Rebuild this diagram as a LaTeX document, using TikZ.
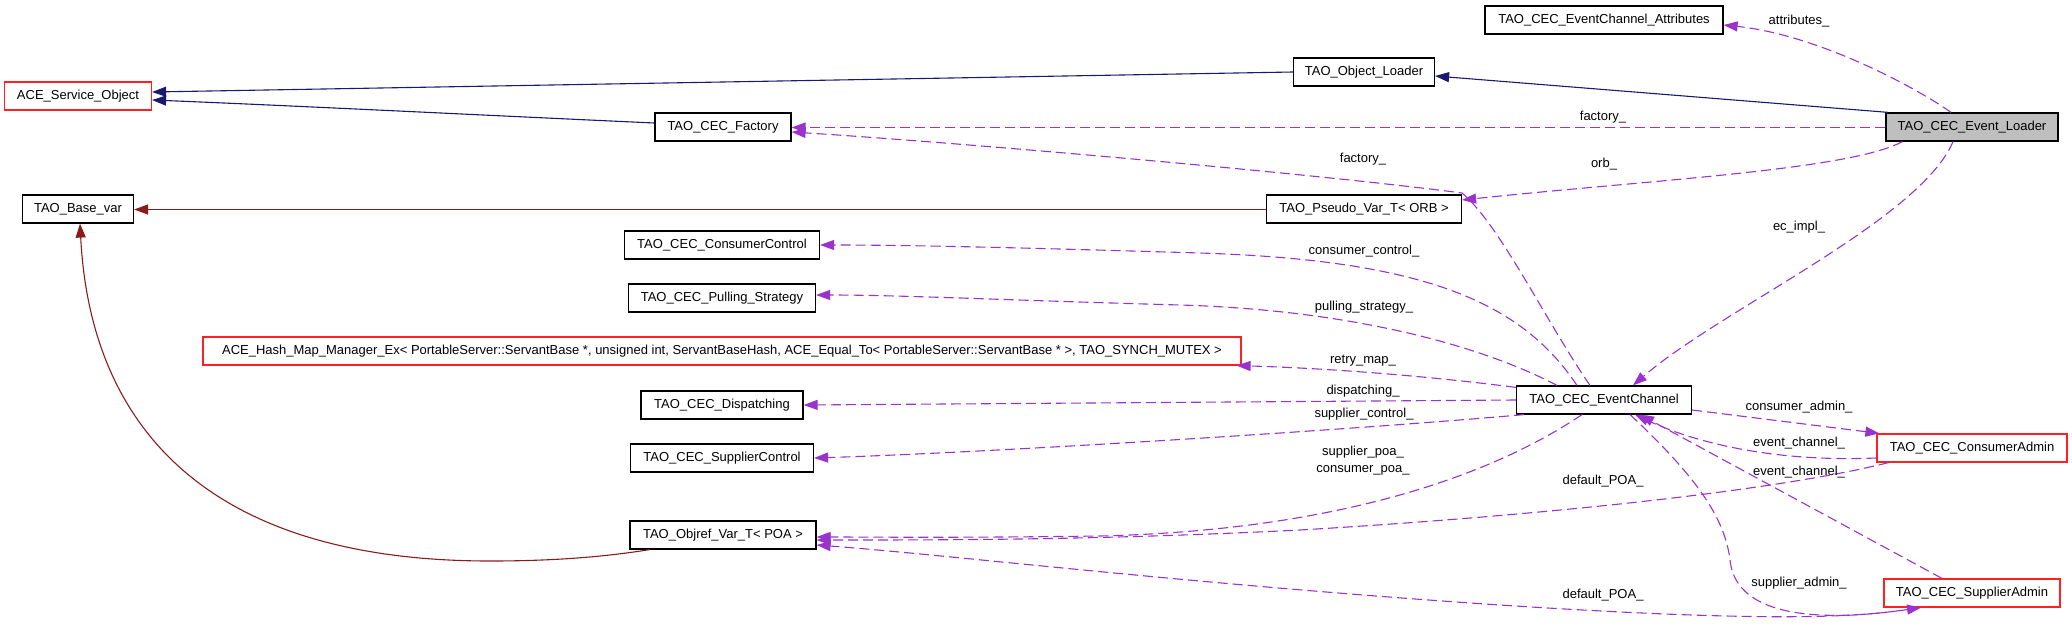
\documentclass[tikz,border=0pt]{standalone}
\usepackage{fontspec}
\setmainfont{Liberation Sans}
\usetikzlibrary{arrows.meta}
\definecolor{usage}{HTML}{9A32CD}
\definecolor{inh}{HTML}{191970}
\definecolor{tmpl}{HTML}{8B1A1A}
\definecolor{redb}{HTML}{FF2020}
\definecolor{greyf}{HTML}{BFBFBF}
\tikzset{
  cls/.style={draw=black, line width=1.2pt, minimum height=28pt, inner sep=0pt,
    font=\fontsize{13}{15}\selectfont, fill=white},
  redcls/.style={cls, draw=redb},
  lbl/.style={inner sep=0pt, font=\fontsize{13}{15}\selectfont, align=center},
  use/.style={draw=usage, line width=1.1pt, dash pattern=on 10pt off 5pt,
    -{Triangle[length=14pt,width=10pt,fill=usage]}},
  inhe/.style={draw=inh, line width=1.1pt, -{Triangle[length=14pt,width=10pt,fill=inh]}},
  tmpe/.style={draw=tmpl, line width=1.1pt, -{Triangle[length=14pt,width=10pt,fill=tmpl]}},
}
\begin{document}
\begin{tikzpicture}[x=1pt,y=-1pt]
\useasboundingbox (0,0) rectangle (2072,627);
% nodes
\node[cls, minimum width=238pt] (attr) at (1604,20) {TAO\_CEC\_EventChannel\_Attributes};
\node[cls, minimum width=141pt] (objl) at (1364,72) {TAO\_Object\_Loader};
\node[cls, minimum width=172pt, fill=greyf] (evl) at (1972,127) {TAO\_CEC\_Event\_Loader};
\node[redcls, minimum width=147pt] (aso) at (78,96) {ACE\_Service\_Object};
\node[cls, minimum width=136pt] (fac) at (723,127) {TAO\_CEC\_Factory};
\node[cls, minimum width=111pt] (bvar) at (78,209) {TAO\_Base\_var};
\node[cls, minimum width=195pt] (pvar) at (1364,209) {TAO\_Pseudo\_Var\_T< ORB >};
\node[cls, minimum width=195pt] (cctl) at (722,245) {TAO\_CEC\_ConsumerControl};
\node[cls, minimum width=187pt] (pull) at (722,298) {TAO\_CEC\_Pulling\_Strategy};
\node[redcls, minimum width=1038pt] (hash) at (722,351) {ACE\_Hash\_Map\_Manager\_Ex< PortableServer::ServantBase *, unsigned int, ServantBaseHash, ACE\_Equal\_To< PortableServer::ServantBase * >, TAO\_SYNCH\_MUTEX >};
\node[cls, minimum width=162pt] (disp) at (722,405) {TAO\_CEC\_Dispatching};
\node[cls, minimum width=183pt] (sctl) at (722,458) {TAO\_CEC\_SupplierControl};
\node[cls, minimum width=186pt] (objref) at (723,535) {TAO\_Objref\_Var\_T< POA >};
\node[cls, minimum width=175pt] (ec) at (1604,400) {TAO\_CEC\_EventChannel};
\node[redcls, minimum width=190pt] (cadm) at (1972,448) {TAO\_CEC\_ConsumerAdmin};
\node[redcls, minimum width=176pt] (sadm) at (1972,593) {TAO\_CEC\_SupplierAdmin};

% inheritance
\draw[inhe] (objl.west) -- ([yshift=4pt]aso.east);
\draw[inhe] ([yshift=4pt]fac.west) .. controls (500,116) and (300,106) .. ([yshift=-4pt]aso.east);
\draw[inhe] ([xshift=3pt]evl.north west) -- ([yshift=-4pt]objl.east);
% template
\draw[tmpe] ([yshift=-0.5pt]pvar.west) -- ([yshift=-0.5pt]bvar.east);
\draw[tmpe] ([xshift=20pt]objref.south west) .. controls (610,556) and (560,561) .. (490,561)
   .. controls (200,561) and (90,420) .. ([xshift=2pt]bvar.south);

% usage
\draw[use] ([xshift=-21pt]evl.north) .. controls (1920,90) and (1820,35) .. ([yshift=-5pt]attr.east);
\node[lbl] (l1) at (1799,21) {attributes\_};
\draw[use] ([yshift=-0.5pt]evl.west) -- ([yshift=-0.5pt]fac.east);
\node[lbl] (l2) at (1603,117) {factory\_};
\draw[use] ([xshift=-14pt]ec.north) .. controls (1545,320) and (1500,225) .. (1462,193)
   .. controls (1300,172) and (950,142) .. ([yshift=-5pt]fac.east);
\node[lbl] (l3) at (1363,159) {factory\_};
\draw[use] ([xshift=17pt]evl.south west) .. controls (1850,170) and (1650,180) .. ([yshift=9pt]pvar.east);
\node[lbl] (l4) at (1604,164) {orb\_};
\draw[use] ([xshift=-19pt]evl.south) .. controls (1920,220) and (1720,310) .. ([xshift=29pt]ec.north);
\node[lbl] (l5) at (1799,227) {ec\_impl\_};
\draw[use] ([xshift=-27pt]ec.north) .. controls (1520,300) and (1420,260) .. (1200,253)
   .. controls (1000,247) and (900,245) .. (cctl.east);
\node[lbl] (l6) at (1364,251) {consumer\_control\_};
\draw[use] ([xshift=-47pt]ec.north) .. controls (1480,345) and (1350,310) .. (1180,305)
   .. controls (1000,300) and (900,295) .. ([yshift=3pt]pull.east);
\node[lbl] (l7) at (1364,307) {pulling\_strategy\_};
\draw[use] ([yshift=-2pt]ec.north west) .. controls (1420,375) and (1320,368) .. ([xshift=-5pt]hash.south east);
\node[lbl] (l8) at (1363,361) {retry\_map\_};
\draw[use] (ec.west) -- (disp.east);
\node[lbl] (l9) at (1363,391) {dispatching\_};
\draw[use] ([xshift=8pt]ec.south west) .. controls (1350,430) and (1000,452) .. (sctl.east);
\node[lbl] (l10) at (1364,414) {supplier\_control\_};
\draw[use] ([xshift=-22pt]ec.south) .. controls (1500,470) and (1350,530) .. (1100,536)
   .. controls (950,538) and (880,537) .. ([yshift=-2pt]objref.east);
\node[lbl] (l11) at (1363,461) {supplier\_poa\_\\[2pt]consumer\_poa\_};
\draw[use] ([xshift=12pt]cadm.south west) .. controls (1780,490) and (1550,515) .. (1300,530)
   .. controls (1100,540) and (950,540) .. ([yshift=-5pt]objref.east);
\node[lbl] (l12) at (1603,481) {default\_POA\_};
\draw[use] ([xshift=-56pt]sadm.south) .. controls (1850,622) and (1700,618) .. (1500,605)
   .. controls (1200,585) and (950,555) .. ([yshift=-10pt]objref.east);
\node[lbl] (l13) at (1603,595) {default\_POA\_};
\draw[use] ([yshift=-10pt]ec.east) -- ([xshift=3pt]cadm.north west);
\node[lbl] (l14) at (1799,407) {consumer\_admin\_};
\draw[use] ([yshift=-10pt]cadm.west) .. controls (1780,462) and (1700,445) .. ([xshift=31pt]ec.south);
\node[lbl] (l15) at (1799,443) {event\_channel\_};
\draw[use] ([xshift=-30pt]sadm.north) -- ([xshift=36pt]ec.south);
\node[lbl] (l16) at (1799,472) {event\_channel\_};
\draw[use] ([xshift=26pt]ec.south) .. controls (1700,480) and (1725,520) .. (1730,560)
   .. controls (1735,610) and (1800,625) .. ([xshift=-51pt]sadm.south);
\node[lbl] (l17) at (1799,583) {supplier\_admin\_};
\end{tikzpicture}
\end{document}
